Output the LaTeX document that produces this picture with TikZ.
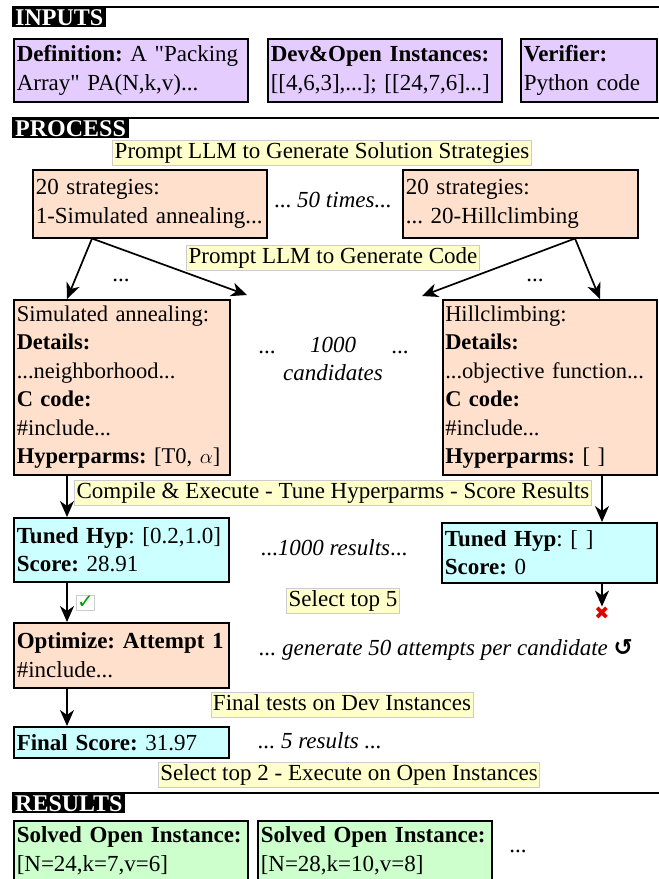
\documentclass[tikz,border=0pt]{standalone}
\usepackage{fontspec}
\setmainfont{Liberation Serif}
\newfontfamily\symfont{DejaVu Sans}
\usetikzlibrary{arrows.meta}
\frenchspacing

\definecolor{inpurple}{HTML}{E5CCFF}
\definecolor{peach}{HTML}{FFE0CC}
\definecolor{cyanbox}{HTML}{CCFFFF}
\definecolor{greenbox}{HTML}{CCFFCC}
\definecolor{hlyellow}{HTML}{FFFFCC}
\definecolor{okgreen}{HTML}{00A000}
\definecolor{badred}{HTML}{E00000}

\tikzset{
  box/.style={draw, line width=1.5pt, anchor=north west, inner xsep=3pt, inner ysep=2pt,
    align=left, font=\fontsize{23}{28.5}\selectfont},
  sect/.style={fill=black, text=white, anchor=north west, inner xsep=3pt, inner ysep=2pt,
    text height=16pt, text depth=0pt, font=\bfseries\fontsize{24}{24}\selectfont},
  rule/.style={line width=2pt},
  hl/.style={fill=hlyellow, draw=black!20, line width=0.6pt, inner sep=2pt,
    text height=16pt, text depth=5pt, font=\fontsize{23}{28.5}\selectfont},
  note/.style={font=\fontsize{23}{28.5}\selectfont\itshape},
  dots/.style={font=\fontsize{23}{28.5}\selectfont},
  arr/.style={-{Stealth[length=16pt,width=14pt,inset=5pt]}, line width=1.7pt},
}

\begin{document}
\begin{tikzpicture}[x=1pt, y=-1pt]
  \path[use as bounding box, clip] (0,0) rectangle (659,879);

  % inputs
  \node[sect] (inputs) at (12,7) {INPUTS};
  \draw[rule] (inputs.north west) -- ++(647,0);
  \node[box, fill=inpurple, text width=228pt, minimum height=63pt] (defn) at (13,38)
    {\textbf{Definition:} A \textquotedbl Packing\\Array\textquotedbl{} PA(N,k,v)...};
  \node[box, fill=inpurple, text width=228pt, minimum height=63pt] (inst) at (267,38)
    {\textbf{Dev\&Open Instances:}\\{}[[4,6,3],...]; [[24,7,6]...]};
  \node[box, fill=inpurple, text width=130pt, minimum height=63pt] (verif) at (520,38)
    {\textbf{Verifier:}\\Python code};

  % process
  \node[sect] (process) at (12,118) {PROCESS};
  \draw[rule] (process.north west) -- ++(647,0);
  \node[hl] (prompt1) at (322,153) {Prompt LLM to Generate Solution Strategies};

  \node[box, fill=peach, text width=228pt, minimum height=68pt] (strat1) at (32,169)
    {20 strategies:\\1-Simulated annealing...};
  \node[box, fill=peach, text width=229pt, minimum height=68pt] (strat2) at (402,169)
    {20 strategies:\\... 20-Hillclimbing};
  \node[note] (times50) at (333,200) {\upshape... \itshape 50 times...};

  \node[hl] (prompt2) at (333,258) {Prompt LLM to Generate Code};
  \node[dots] (dots1) at (121,280) {...};
  \node[dots] (dots2) at (535,280) {...};

  \node[box, fill=peach, text width=210pt, minimum height=175pt,
    font=\fontsize{22.5}{28.5}\selectfont] (cand1) at (13,299)
    {Simulated annealing:\\\textbf{Details:}\\...neighborhood...\\\textbf{C code:}\\\#include...\\\textbf{Hyperparms:} [T0, $\alpha$]};
  \node[box, fill=peach, text width=209pt, minimum height=175pt, inner xsep=2.5pt,
    font=\fontsize{22.5}{28.5}\selectfont] (cand2) at (442,299)
    {Hillclimbing:\\\textbf{Details:}\\...objective function...\\\textbf{C code:}\\\#include...\\\textbf{Hyperparms:} [ ]};
  \coordinate (cand1in) at (247,295);
  \coordinate (cand2in) at (422,296);

  \draw[arr] ([xshift=60pt]strat1.south west) -- ([xshift=54pt]cand1.north west);
  \draw[arr] ([xshift=60pt]strat1.south west) -- (cand1in);
  \draw[arr] ([xshift=173pt]strat2.south west) -- (cand2in);
  \draw[arr] ([xshift=173pt]strat2.south west) -- ([xshift=158pt]cand2.north west);

  \node[dots] (dots3) at (267,352) {...};
  \node[note, align=center] (cands) at (333,359) {1000\\candidates};
  \node[dots] (dots4) at (400,352) {...};

  % scoring
  \node[hl] (compile) at (333,493) {Compile \& Execute - Tune Hyperparms - Score Results};
  \node[box, fill=cyanbox, text width=209pt, minimum height=64pt] (tuned1) at (13,517)
    {\textbf{Tuned Hyp}: [0.2,1.0]\\\textbf{Score:} 28.91};
  \node[box, fill=cyanbox, text width=209pt, minimum height=60pt] (tuned2) at (441,522)
    {\textbf{Tuned Hyp}: [ ]\\\textbf{Score:} 0};
  \node[note] (res1000) at (334,548) {\upshape...\itshape1000 results\upshape...};

  \draw[arr] ([xshift=54pt]cand1.south west) -- ([xshift=54pt]tuned1.north west);
  \draw[arr] ([xshift=160pt]cand2.south west) -- ([xshift=161pt]tuned2.north west);

  \node[hl] (select5) at (343,601) {Select top 5};
  \node[draw=black!20, fill=white, line width=0.6pt, inner xsep=0.5pt, inner ysep=1pt, text=okgreen,
    font=\symfont\fontsize{20}{20}\selectfont] (ok) at (85.5,602.5) {✓};
  \node[text=badred, inner sep=0pt, font=\symfont\fontsize{18}{18}\selectfont] (bad) at (602,613) {✖};
  \draw[arr] ([xshift=161pt]tuned2.south west) -- (bad.north);

  % optimize
  \node[box, fill=peach, text width=209pt, minimum height=65pt] (opt1) at (13,622)
    {\textbf{Optimize: Attempt 1}\\\#include...};
  \node[note] (gen50) at (446,650) {... generate 50 attempts per candidate {\upshape\symfont\bfseries ↺}};
  \draw[arr] ([xshift=54pt]tuned1.south west) -- ([xshift=54pt]opt1.north west);

  \node[hl] (finaltests) at (342,705) {Final tests on Dev Instances};
  \node[box, fill=cyanbox, text width=209pt, minimum height=31pt] (final1) at (13,726)
    {\textbf{Final Score:} 31.97};
  \node[note] (res5) at (320,741) {... 5 results ...};
  \draw[arr] ([xshift=54pt]opt1.south west) -- ([xshift=54pt]final1.north west);

  \node[hl] (select2) at (349,775) {Select top 2 - Execute on Open Instances};

  % results
  \node[sect] (results) at (12,793) {RESULTS};
  \draw[rule] (results.north west) -- ++(647,0);
  \node[box, fill=greenbox, text width=228pt, inner ysep=6pt] (solved1) at (13,820)
    {\textbf{Solved Open Instance:}\\{}[N=24,k=7,v=6]\\\mbox{}};
  \node[box, fill=greenbox, text width=228pt, inner ysep=6pt] (solved2) at (257,820)
    {\textbf{Solved Open Instance:}\\{}[N=28,k=10,v=8]\\\mbox{}};
  \node[dots] (dots5) at (518,851) {...};
\end{tikzpicture}
\end{document}
